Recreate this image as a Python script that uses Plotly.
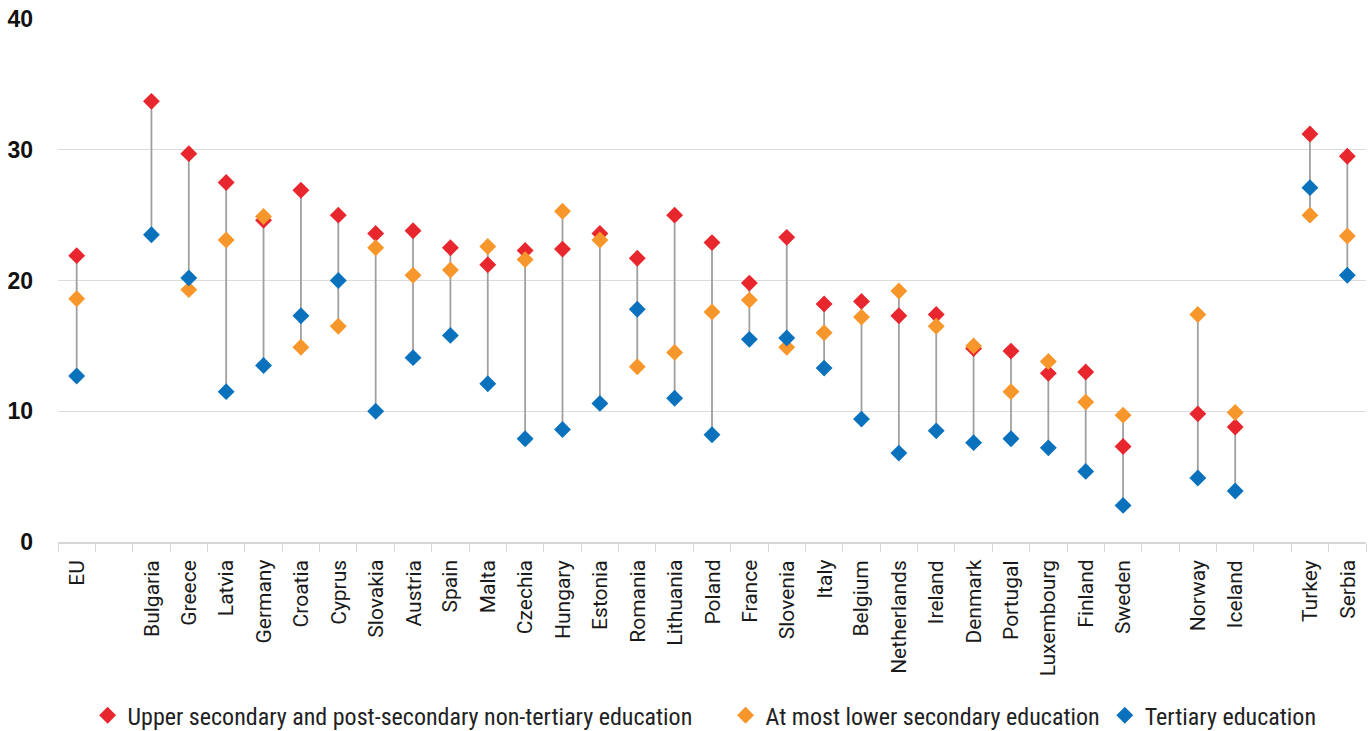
import plotly.graph_objects as go

# Country order; blank entries are spacer slots between country groups
categories = ["EU", " ", "Bulgaria", "Greece", "Latvia", "Germany", "Croatia", "Cyprus",
              "Slovakia", "Austria", "Spain", "Malta", "Czechia", "Hungary", "Estonia",
              "Romania", "Lithuania", "Poland", "France", "Slovenia", "Italy", "Belgium",
              "Netherlands", "Ireland", "Denmark", "Portugal", "Luxembourg", "Finland",
              "Sweden", "  ", "Norway", "Iceland", "   ", "Turkey", "Serbia"]

upper_secondary = [21.9, None, 33.7, 29.7, 27.5, 24.6, 26.9, 25.0, 23.6, 23.8, 22.5, 21.2,
                   22.3, 22.4, 23.6, 21.7, 25.0, 22.9, 19.8, 23.3, 18.2, 18.4, 17.3, 17.4,
                   14.8, 14.6, 12.9, 13.0, 7.3, None, 9.8, 8.8, None, 31.2, 29.5]

lower_secondary = [18.6, None, None, 19.3, 23.1, 24.9, 14.9, 16.5, 22.5, 20.4, 20.8, 22.6,
                   21.6, 25.3, 23.1, 13.4, 14.5, 17.6, 18.5, 14.9, 16.0, 17.2, 19.2, 16.5,
                   15.0, 11.5, 13.8, 10.7, 9.7, None, 17.4, 9.9, None, 25.0, 23.4]

tertiary = [12.7, None, 23.5, 20.2, 11.5, 13.5, 17.3, 20.0, 10.0, 14.1, 15.8, 12.1,
            7.9, 8.6, 10.6, 17.8, 11.0, 8.2, 15.5, 15.6, 13.3, 9.4, 6.8, 8.5,
            7.6, 7.9, 7.2, 5.4, 2.8, None, 4.9, 3.9, None, 27.1, 20.4]

series_names = ["Upper secondary and post-secondary non-tertiary education",
                "At most lower secondary education",
                "Tertiary education"]
series_colors = ["#E8262D", "#F7962A", "#0A72BD"]
legend_ids = ["legend", "legend2", "legend3"]
legend_x = [0.064, 0.530, 0.807]

# Grey range lines spanning the min and max of each country
line_x, line_y = [], []
for i, cat in enumerate(categories):
    vals = [v for v in (upper_secondary[i], lower_secondary[i], tertiary[i]) if v is not None]
    if len(vals) >= 2:
        line_x += [cat, cat, None]
        line_y += [min(vals), max(vals), None]

fig = go.Figure()
fig.add_trace(go.Scatter(x=line_x, y=line_y, mode="lines",
                         line=dict(color="#A0A0A0", width=1.8),
                         showlegend=False, hoverinfo="skip"))

for name, vals, color, lg in zip(series_names, [upper_secondary, lower_secondary, tertiary],
                                 series_colors, legend_ids):
    fig.add_trace(go.Scatter(x=categories, y=vals, mode="markers", name=name, legend=lg,
                             marker=dict(symbol="diamond", size=13, color=color,
                                         line=dict(width=0))))

# Rotated country names under each category slot
for cat in categories:
    if cat.strip():
        fig.add_annotation(x=cat, xref="x", y=0, yref="paper", yshift=-16,
                           text=cat, textangle=-90, showarrow=False,
                           xanchor="center", yanchor="top",
                           font=dict(family="Roboto, sans-serif", size=21, color="#1A1A1A"))

legend_font = dict(family="Liberation Sans Narrow, Arial Narrow, Roboto Condensed, sans-serif",
                   size=24, color="#222222")
legend_layout = {}
for lg, lx in zip(legend_ids, legend_x):
    legend_layout[lg] = dict(orientation="h", xref="container", yref="container",
                             x=lx, xanchor="left", y=0.021, yanchor="middle",
                             font=legend_font, itemwidth=30, bgcolor="rgba(0,0,0,0)")

fig.update_layout(
    width=1369, height=731,
    margin=dict(l=58, r=3, t=19, b=189, autoexpand=False),
    plot_bgcolor="white", paper_bgcolor="white",
    showlegend=True,
    **legend_layout,
    xaxis=dict(type="category", categoryorder="array", categoryarray=categories,
               range=[-0.5, len(categories) - 0.5], automargin=False,
               showgrid=False, showline=True, linecolor="#D6D6D6", linewidth=1.5,
               ticks="outside", tickson="boundaries", ticklen=8, tickcolor="#D6D6D6",
               showticklabels=False),
    yaxis=dict(range=[0, 40], dtick=10, showgrid=True, gridcolor="#DCDCDC", gridwidth=1.2,
               zeroline=False, showline=False, ticks="", ticklabelstandoff=24, automargin=False,
               tickfont=dict(family="Liberation Sans Narrow, Liberation Sans, Arial, sans-serif",
                             size=23, color="#111111", weight="bold")),
)

fig.write_html("out.html")
